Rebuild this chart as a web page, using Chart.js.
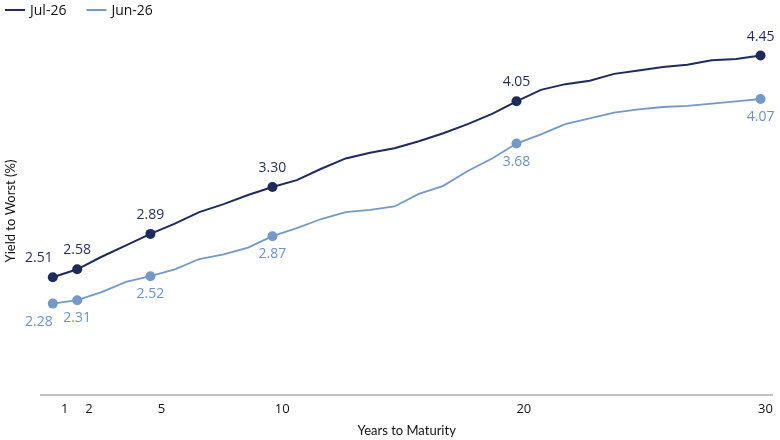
<!DOCTYPE html>
<html>
<head>
<meta charset="utf-8">
<script src="https://cdn.jsdelivr.net/npm/chart.js@4/dist/chart.umd.min.js"></script>
<style>
  html, body { margin: 0; padding: 0; background: #fff; }
  #wrap { width: 780px; height: 440px; }
</style>
</head>
<body>
<div id="wrap"><canvas id="chart" width="780" height="440"></canvas></div>
<script>
// years to maturity
const years = [1, 2, 3, 4, 5, 6, 7, 8, 9, 10, 11, 12, 13, 14, 15,
               16, 17, 18, 19, 20, 21, 22, 23, 24, 25, 26, 27, 28, 29, 30];

const jul26 = [2.51, 2.58, 2.69, 2.79, 2.89, 2.98, 3.08, 3.15, 3.23, 3.30,
               3.36, 3.46, 3.55, 3.60, 3.64, 3.70, 3.77, 3.85, 3.94, 4.05,
               4.15, 4.20, 4.23, 4.29, 4.32, 4.35, 4.37, 4.41, 4.42, 4.45];

const jun26 = [2.28, 2.31, 2.38, 2.47, 2.52, 2.58, 2.67, 2.71, 2.77, 2.87,
               2.94, 3.02, 3.08, 3.10, 3.13, 3.24, 3.31, 3.44, 3.55, 3.68,
               3.76, 3.85, 3.90, 3.95, 3.98, 4.00, 4.01, 4.03, 4.05, 4.07];

// ticks on the x axis, also the points that get a marker + label
const tickYears = [1, 2, 5, 10, 20, 30];

const darkBlue = '#1e2b5c';
const lightBlue = '#7499c9';
const lightLabel = '#6b91c5';

function toPoints(vals) {
    return years.map((yr, i) => ({x: yr, y: vals[i]}));
}

function markerRadius(ctx) {
    const p = ctx.raw;
    return p && tickYears.includes(p.x) ? 5 : 0;
}

// value labels above (first series) / below (second series) the marked points
const valueLabels = {
    id: 'valueLabels',
    afterDatasetsDraw(chart) {
        const ctx = chart.ctx;
        ctx.save();
        ctx.font = '14px "Open Sans"';
        ctx.textBaseline = 'middle';
        chart.data.datasets.forEach((ds, di) => {
            const meta = chart.getDatasetMeta(di);
            let first = true;
            meta.data.forEach((el, i) => {
                const p = ds.data[i];
                if (!tickYears.includes(p.x)) return;
                ctx.fillStyle = di === 0 ? darkBlue : lightLabel;
                ctx.textAlign = first ? 'right' : 'center';
                const dy = di === 0 ? -19 : 18;
                ctx.fillText(p.y.toFixed(2), el.x, el.y + dy);
                first = false;
            });
        });
        ctx.restore();
    }
};

// simple line legend in the top-left corner
const lineLegend = {
    id: 'lineLegend',
    afterDraw(chart) {
        const ctx = chart.ctx;
        ctx.save();
        ctx.font = '14px "Open Sans"';
        ctx.textBaseline = 'middle';
        ctx.textAlign = 'left';
        let x = 5;
        const y = 10;
        chart.data.datasets.forEach((ds) => {
            ctx.strokeStyle = ds.borderColor;
            ctx.lineWidth = 2;
            ctx.beginPath();
            ctx.moveTo(x, y);
            ctx.lineTo(x + 20, y);
            ctx.stroke();
            ctx.fillStyle = '#111';
            ctx.fillText(ds.label, x + 25, y + 1);
            x += 25 + ctx.measureText(ds.label).width + 20;
        });
        ctx.restore();
    }
};

new Chart(document.getElementById('chart'), {
    type: 'line',
    data: {
        datasets: [
            {
                label: 'Jul-26',
                data: toPoints(jul26),
                borderColor: darkBlue,
                backgroundColor: darkBlue,
                borderWidth: 2,
                pointRadius: markerRadius,
                pointHoverRadius: markerRadius,
                pointBackgroundColor: darkBlue,
                pointBorderWidth: 0,
                tension: 0
            },
            {
                label: 'Jun-26',
                data: toPoints(jun26),
                borderColor: lightBlue,
                backgroundColor: lightBlue,
                borderWidth: 1.8,
                pointRadius: markerRadius,
                pointHoverRadius: markerRadius,
                pointBackgroundColor: lightBlue,
                pointBorderWidth: 0,
                tension: 0
            }
        ]
    },
    options: {
        responsive: false,
        animation: false,
        layout: {padding: {left: 0, right: 7, top: 27, bottom: 3}},
        plugins: {
            legend: {display: false},
            tooltip: {enabled: false}
        },
        scales: {
            x: {
                type: 'linear',
                min: 0.5,
                max: 30.5,
                display: false
            },
            xTicks: {
                type: 'linear',
                position: 'bottom',
                min: 0,
                max: 30.3,
                afterBuildTicks(axis) {
                    axis.ticks = tickYears.map(v => ({value: v}));
                },
                grid: {display: false, drawTicks: false},
                border: {display: true, color: '#c4c4c4', width: 2},
                ticks: {
                    padding: 7,
                    autoSkip: false,
                    maxRotation: 0,
                    color: '#111',
                    font: {family: '"Open Sans"', size: 13, lineHeight: 1.15}
                },
                title: {
                    display: true,
                    text: 'Years to Maturity',
                    color: '#111',
                    font: {family: 'Lato', size: 13, lineHeight: 1},
                    padding: {top: 0, bottom: 0}
                }
            },
            y: {
                min: 1.48,
                max: 4.7,
                grid: {display: false, drawTicks: false},
                border: {display: false},
                ticks: {display: false},
                title: {
                    display: true,
                    text: 'Yield to Worst (%)',
                    color: '#111',
                    font: {family: 'Lato', size: 13},
                    padding: {top: 3, bottom: 22}
                }
            }
        }
    },
    plugins: [valueLabels, lineLegend]
});
</script>
</body>
</html>
